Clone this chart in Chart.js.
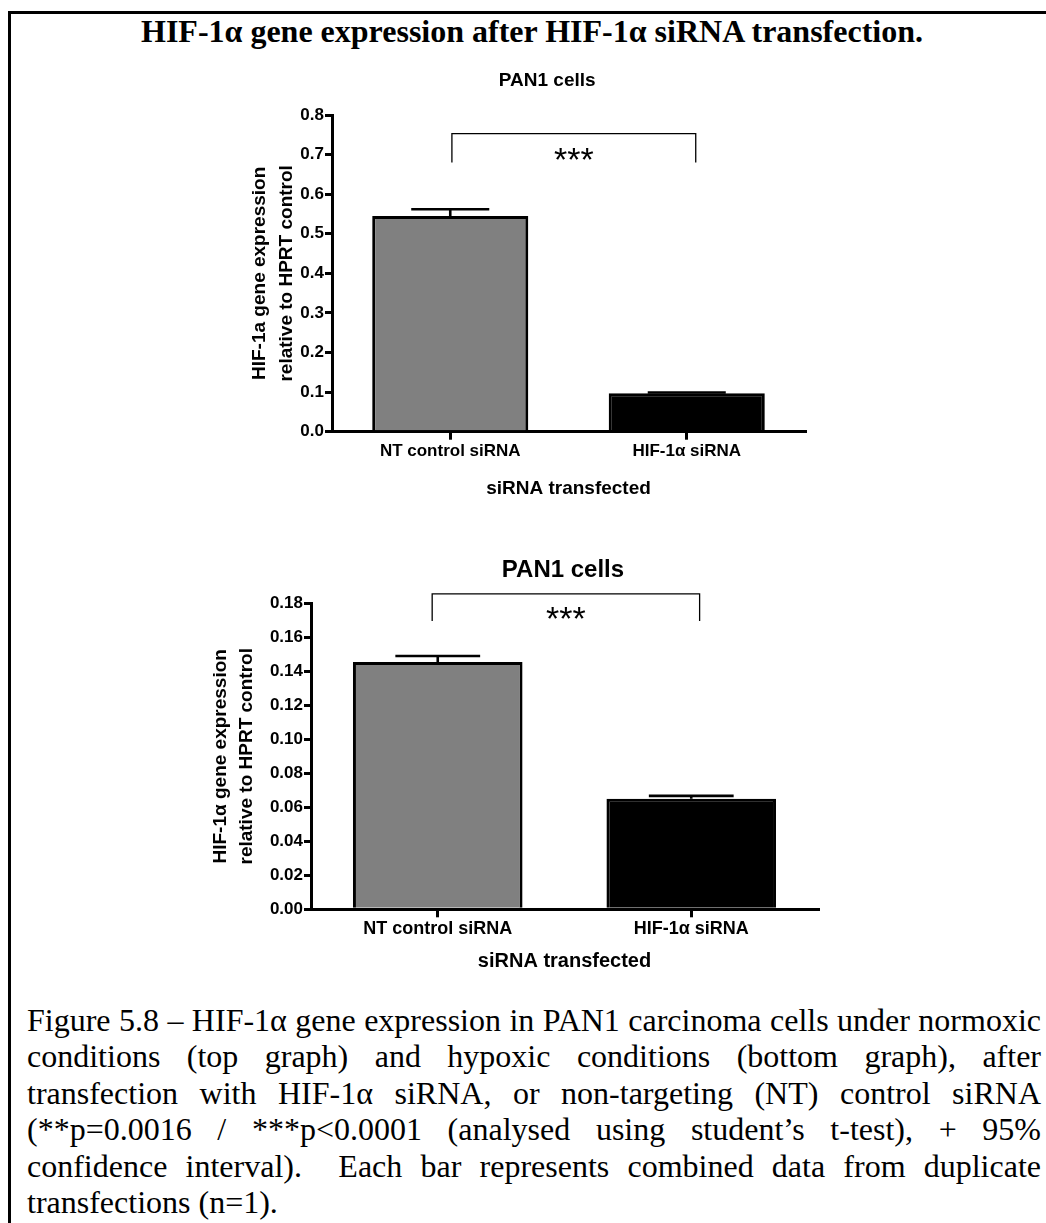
<!DOCTYPE html>
<html>
<head>
<meta charset="utf-8">
<script src="https://cdn.jsdelivr.net/npm/chart.js@4/dist/chart.umd.min.js"></script>
<style>
  html, body { margin: 0; padding: 0; background: #fff; }
  body { width: 1046px; height: 1223px; position: relative; overflow: hidden; }
  #frame { position: absolute; left: 8px; top: 11px; width: 1200px; height: 1400px;
           border-left: 3px solid #000; border-top: 3px solid #000; }
  #heading { position: absolute; left: 9px; width: 1046px; top: 13px; text-align: center;
             font: bold 32px "Liberation Serif", "Times New Roman", serif; line-height: 36px; white-space: nowrap; }
  canvas { position: absolute; }
  #caption { position: absolute; left: 27px; width: 1014px; top: 1002px;
             font: 32px "Liberation Serif", "Times New Roman", serif; line-height: 36.4px; }
  #caption .ln { display: block; text-align: justify; text-align-last: justify; }
  #caption .ln.last { text-align-last: left; }
</style>
</head>
<body>
<div id="frame"></div>
<div id="heading">HIF-1α gene expression after HIF-1α siRNA transfection.</div>
<canvas id="normoxic" width="620" height="450" style="left:200px;top:60px;width:620px;height:450px;"></canvas>
<canvas id="hypoxic" width="690" height="450" style="left:150px;top:530px;width:690px;height:450px;"></canvas>
<div id="caption">
  <span class="ln">Figure 5.8 – HIF-1α gene expression in PAN1 carcinoma cells under normoxic</span>
  <span class="ln">conditions (top graph) and hypoxic conditions (bottom graph), after</span>
  <span class="ln">transfection with HIF-1α siRNA, or non-targeting (NT) control siRNA</span>
  <span class="ln">(**p=0.0016 / ***p&lt;0.0001 (analysed using student’s t-test), + 95%</span>
  <span class="ln">confidence interval).&nbsp; Each bar represents combined data from duplicate</span>
  <span class="ln last">transfections (n=1).</span>
</div>
<script>
// Categories shared by both graphs
const categories = ['NT control siRNA', 'HIF-1α siRNA'];

// Normoxic (top graph): mean expression and upper 95% CI limit
const normoxicMean = [0.545, 0.097];
const normoxicUpper = [0.562, 0.099];
const normoxicTickValues = [0, 0.1, 0.2, 0.3, 0.4, 0.5, 0.6, 0.7, 0.8];
const normoxicTickLabels = ['0.0', '0.1', '0.2', '0.3', '0.4', '0.5', '0.6', '0.7', '0.8'];

// Hypoxic (bottom graph)
const hypoxicMean = [0.1455, 0.065];
const hypoxicUpper = [0.149, 0.0667];
const hypoxicTickValues = [0, 0.02, 0.04, 0.06, 0.08, 0.10, 0.12, 0.14, 0.16, 0.18];
const hypoxicTickLabels = ['0.00', '0.02', '0.04', '0.06', '0.08', '0.10', '0.12', '0.14', '0.16', '0.18'];

const barColors = ['#808080', '#000000'];
const SANS = '"Liberation Sans", Arial, Helvetica, sans-serif';

// Graph heading, upper-only error bars and the significance bracket
const annotations = {
  id: 'annotations',
  afterDatasetsDraw(chart, args, opts) {
    const { ctx, chartArea, scales: { x, y } } = chart;
    const ds = chart.data.datasets[0];
    const meta = chart.getDatasetMeta(0);
    ctx.save();
    ctx.strokeStyle = '#000';
    ctx.fillStyle = '#000';
    ctx.lineCap = 'butt';

    // heading above the plot
    const h = opts.heading;
    ctx.font = h.font;
    ctx.textAlign = 'center';
    ctx.textBaseline = 'middle';
    ctx.fillText(h.text, chartArea.left + chartArea.width * h.anchor, h.y);

    ctx.lineWidth = opts.errorLineWidth;
    meta.data.forEach((bar, i) => {
      const yTop = y.getPixelForValue(ds.data[i]);
      const yHi = y.getPixelForValue(ds.upper[i]);
      const half = bar.width / 4;
      ctx.beginPath();
      ctx.moveTo(bar.x, yTop);
      ctx.lineTo(bar.x, yHi);
      ctx.moveTo(bar.x - half, yHi);
      ctx.lineTo(bar.x + half, yHi);
      ctx.stroke();
    });

    const b = opts.bracket;
    const xl = x.getPixelForValue(b.from);
    const xr = x.getPixelForValue(b.to);
    const yb = y.getPixelForValue(b.level);
    const yl = y.getPixelForValue(b.legEnd);
    ctx.lineWidth = 1.3;
    ctx.beginPath();
    ctx.moveTo(xl, yl);
    ctx.lineTo(xl, yb);
    ctx.lineTo(xr, yb);
    ctx.lineTo(xr, yl);
    ctx.stroke();
    ctx.font = opts.starFont;
    ctx.textBaseline = 'alphabetic';
    ctx.fillText(b.label, (xl + xr) / 2, yb + opts.starDrop);
    ctx.restore();
  }
};

function makeChart(id, cfg) {
  return new Chart(document.getElementById(id), {
    type: 'bar',
    data: {
      labels: categories,
      datasets: [{
        data: cfg.mean,
        upper: cfg.upper,
        backgroundColor: barColors,
        borderColor: '#000',
        borderWidth: 3,
        categoryPercentage: 1,
        barPercentage: cfg.barPct
      }]
    },
    options: {
      responsive: false,
      maintainAspectRatio: false,
      animation: false,
      devicePixelRatio: 1,
      layout: { padding: { left: 0, right: cfg.padRight, top: cfg.padTop, bottom: 0 } },
      plugins: {
        legend: { display: false },
        tooltip: { enabled: false },
        title: { display: false },
        annotations: {
          heading: { text: 'PAN1 cells', font: 'bold ' + cfg.titleSize + 'px ' + SANS, anchor: cfg.titleAnchor, y: cfg.titleY },
          errorLineWidth: 2.6,
          starFont: '34px ' + SANS,
          starDrop: cfg.starDrop,
          bracket: cfg.bracket
        }
      },
      scales: {
        x: {
          offset: true,
          grid: { offset: false, drawOnChartArea: false, drawTicks: true, tickLength: 8, lineWidth: 3, color: '#000' },
          border: { display: true, width: 3, color: '#000' },
          ticks: { color: '#000', padding: 1, font: { family: SANS, size: cfg.catSize, weight: 'bold' } },
          title: {
            display: true,
            text: 'siRNA transfected',
            color: '#000',
            font: { family: SANS, size: cfg.xTitleSize, weight: 'bold', lineHeight: 1.2 },
            padding: { top: 0, bottom: cfg.xTitlePadBottom }
          },
          afterFit(scale) { scale.height = cfg.xAxisHeight; }
        },
        y: {
          min: 0,
          max: cfg.yMax,
          afterBuildTicks(scale) { scale.ticks = cfg.tickValues.map(v => ({ value: v })); },
          grid: { drawOnChartArea: false, drawTicks: true, tickLength: 7, lineWidth: 3, color: '#000' },
          border: { display: true, width: 3, color: '#000' },
          ticks: {
            color: '#000',
            padding: 1,
            font: { family: SANS, size: cfg.tickSize, weight: 'bold' },
            callback: (v, i) => cfg.tickLabels[i]
          },
          title: {
            display: true,
            text: cfg.yTitle,
            color: '#000',
            font: { family: SANS, size: cfg.yTitleSize, weight: 'bold', lineHeight: cfg.yTitleLH },
            padding: { top: cfg.yTitlePadTop, bottom: 0 }
          },
          afterFit(scale) { scale.width = cfg.yAxisWidth; }
        }
      }
    },
    plugins: [annotations]
  });
}

makeChart('normoxic', {
  mean: normoxicMean,
  upper: normoxicUpper,
  barPct: 0.66,
  padRight: 15,
  padTop: 55,
  titleSize: 19,
  titleAnchor: 0.455,
  titleY: 21,
  catSize: 17,
  xTitleSize: 19,
  xTitlePadBottom: 9.6,
  xAxisHeight: 78.3,
  yMax: 0.8,
  tickValues: normoxicTickValues,
  tickLabels: normoxicTickLabels,
  tickSize: 17,
  yTitle: ['HIF-1a gene expression', 'relative to HPRT control'],
  yTitleSize: 19,
  yTitleLH: 27 / 19,
  yTitlePadTop: 46.5,
  yAxisWidth: 132,
  starDrop: 37,
  bracket: { from: 0.007, to: 1.038, level: 0.753, legEnd: 0.68, label: '***' }
});

makeChart('hypoxic', {
  mean: hypoxicMean,
  upper: hypoxicUpper,
  barPct: 0.669,
  padRight: 22,
  padTop: 73.3,
  titleSize: 24,
  titleAnchor: 0.497,
  titleY: 40,
  catSize: 18,
  xTitleSize: 20,
  xTitlePadBottom: 7,
  xAxisHeight: 70.7,
  yMax: 0.18,
  tickValues: hypoxicTickValues,
  tickLabels: hypoxicTickLabels,
  tickSize: 17,
  yTitle: ['HIF-1α gene expression', 'relative to HPRT control'],
  yTitleSize: 19,
  yTitleLH: 26 / 19,
  yTitlePadTop: 57.7,
  yAxisWidth: 161,
  starDrop: 36,
  bracket: { from: -0.022, to: 1.033, level: 0.1855, legEnd: 0.1696, label: '***' }
});
</script>
</body>
</html>
